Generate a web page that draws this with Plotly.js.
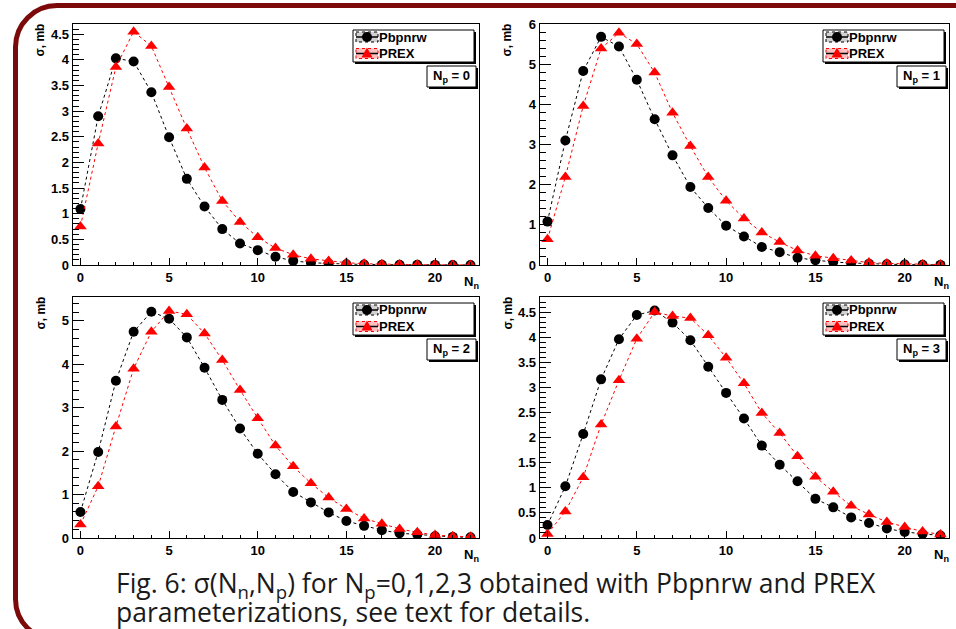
<!DOCTYPE html>
<html>
<head>
<meta charset="utf-8">
<script src="https://cdn.plot.ly/plotly-3.0.1.min.js"></script>
<style>
html,body{margin:0;padding:0;background:#fff;}
#frame{position:absolute;left:13px;top:3px;width:1000px;height:640px;border:5px solid #7d0a0a;border-radius:44px;box-sizing:border-box;}
#chart{position:absolute;left:0;top:0;width:956px;height:629px;}
</style>
</head>
<body>
<div id="frame"></div>
<div id="chart"></div>
<script>
// ---- data ----
const nn = [0,1,2,3,4,5,6,7,8,9,10,11,12,13,14,15,16,17,18,19,20,21,22];
const npLabels = ["0","1","2","3"];
const seriesNames = ["Pbpnrw","PREX"];

const pb0   = [1.09,2.90,4.03,3.97,3.37,2.49,1.68,1.14,0.70,0.42,0.29,0.16,0.08,0.045,0.03,0.015,0.01,0.006,0.004,0.003,0.002,0.001,0.001];
const prex0 = [0.75,2.37,3.86,4.55,4.27,3.47,2.66,1.90,1.25,0.84,0.54,0.33,0.20,0.12,0.08,0.045,0.025,0.015,0.01,0.006,0.004,0.002,0.001];
const pb1   = [1.08,3.10,4.83,5.68,5.44,4.61,3.63,2.73,1.94,1.42,0.98,0.71,0.45,0.32,0.18,0.12,0.075,0.05,0.03,0.02,0.01,0.006,0.003];
const prex1 = [0.64,2.19,3.96,5.39,5.78,5.50,4.79,3.79,2.96,2.19,1.60,1.16,0.81,0.57,0.36,0.23,0.17,0.11,0.06,0.04,0.025,0.015,0.01];
const pb2   = [0.60,1.98,3.62,4.75,5.21,5.05,4.62,3.92,3.18,2.52,1.94,1.47,1.06,0.82,0.59,0.39,0.28,0.18,0.11,0.08,0.04,0.025,0.015];
const prex2 = [0.31,1.19,2.57,3.90,4.75,5.23,5.15,4.71,4.10,3.41,2.76,2.13,1.65,1.26,0.93,0.67,0.45,0.33,0.21,0.13,0.07,0.04,0.03];
const pb3   = [0.26,1.03,2.07,3.16,3.96,4.44,4.53,4.29,3.94,3.41,2.89,2.38,1.84,1.46,1.13,0.78,0.61,0.41,0.30,0.19,0.12,0.08,0.05];
const prex3 = [0.08,0.53,1.21,2.26,3.14,3.97,4.50,4.42,4.38,4.04,3.59,3.08,2.49,2.09,1.63,1.22,0.92,0.64,0.47,0.32,0.22,0.13,0.07];

const yMax   = [4.7, 6.0, 5.55, 4.8];
const yDtick = [0.5, 1, 1, 0.5];
const yMinor = [0.1, 0.2, 0.2, 0.1];

const captionLine1 = "Fig. 6: σ(N<sub>n</sub>,N<sub>p</sub>) for N<sub>p</sub>=0,1,2,3 obtained with Pbpnrw and PREX";
const captionLine2 = "parameterizations, see text for details.";

// ---- geometry (pixels) ----
const W = 956, H = 629;
const px = v => v / W;
const py = v => 1 - v / H;
const panels = [
  {l:73, r:479, t:24, b:265},
  {l:540, r:949, t:24, b:265},
  {l:73, r:479, t:297, b:538},
  {l:540, r:949, t:297, b:538}
];
const pbData = [pb0, pb1, pb2, pb3];
const prexData = [prex0, prex1, prex2, prex3];
const colors = ["#000000", "#ff0000"];

const FONT = "Liberation Sans, Arial, sans-serif";
const data = [];
const layout = {
  width: W, height: H,
  margin: {l:0, r:0, t:0, b:0},
  paper_bgcolor: "rgba(0,0,0,0)",
  plot_bgcolor: "#fff",
  showlegend: false,
  font: {family: FONT, size: 13, color: "#000"},
  shapes: [], annotations: []
};

function rectShape(x0, x1, y0, y1, fill, line) {
  return {type: "rect", xref: "paper", yref: "paper",
    x0: px(x0), x1: px(x1), y0: py(y0), y1: py(y1),
    fillcolor: fill, line: line, layer: "above"};
}

panels.forEach((p, i) => {
  const k = i === 0 ? "" : String(i + 1);
  const xa = "x" + k, ya = "y" + k;
  data.push({
    x: nn, y: pbData[i], xaxis: xa, yaxis: ya, name: seriesNames[0],
    type: "scatter", mode: "lines+markers",
    line: {color: colors[0], width: 1, dash: "dot"},
    marker: {symbol: "circle", size: 10, color: colors[0]}
  });
  data.push({
    x: nn, y: prexData[i], xaxis: xa, yaxis: ya, name: seriesNames[1],
    type: "scatter", mode: "lines+markers",
    line: {color: colors[1], width: 1, dash: "dot"},
    marker: {symbol: "triangle-up", size: 11, color: colors[1]}
  });
  layout["xaxis" + k] = {
    domain: [px(p.l), px(p.r)], anchor: ya,
    range: [-0.42, 22.48], tick0: 0, dtick: 5,
    ticks: "inside", ticklen: 7, tickwidth: 1, tickcolor: "#000",
    minor: {ticks: "inside", dtick: 1, ticklen: 3.5, tickwidth: 1, tickcolor: "#000"},
    showline: true, mirror: true, linecolor: "#000", linewidth: 1.3,
    showgrid: false, zeroline: false,
    tickfont: {family: FONT, size: 13, weight: 700}
  };
  layout["yaxis" + k] = {
    domain: [py(p.b), py(p.t)], anchor: xa,
    range: [0, yMax[i]], tick0: 0, dtick: yDtick[i],
    ticks: "inside", ticklen: 11, tickwidth: 1, tickcolor: "#000",
    minor: {ticks: "inside", dtick: yMinor[i], ticklen: 6, tickwidth: 1, tickcolor: "#000"},
    showline: true, mirror: true, linecolor: "#000", linewidth: 1.3,
    showgrid: false, zeroline: false,
    tickfont: {family: FONT, size: 13, weight: 700}
  };

  // legend box + shadow
  const lx0 = p.r - 126, lx1 = p.r - 5, ly0 = p.t + 6, ly1 = p.t + 38;
  layout.shapes.push(rectShape(lx0 + 2, lx1 + 2, ly0 + 2, ly1 + 2, "#000", {width: 0}));
  layout.shapes.push(rectShape(lx0, lx1, ly0, ly1, "#fff", {width: 1, color: "#000"}));
  const rowY = [ly0 + 7, ly0 + 23.5];
  seriesNames.forEach((nm, j) => {
    const cy = rowY[j], cx = lx0 + 14;
    layout.shapes.push(rectShape(cx - 11, cx + 11, cy - 5, cy + 5,
      j === 0 ? "rgba(0,0,0,0.18)" : "rgba(255,0,0,0.25)",
      {width: 1, color: colors[j], dash: "dot"}));
    layout.shapes.push({type: "line", xref: "paper", yref: "paper",
      x0: px(cx - 11), x1: px(cx + 11), y0: py(cy), y1: py(cy),
      line: {color: "#000", width: 1.5}, layer: "above"});
    if (j === 0) {
      layout.shapes.push({type: "circle", xref: "paper", yref: "paper",
        x0: px(cx - 5), x1: px(cx + 5), y0: py(cy - 5), y1: py(cy + 5),
        fillcolor: colors[0], line: {width: 0}, layer: "above"});
    } else {
      layout.shapes.push({type: "path", xref: "paper", yref: "paper",
        path: "M" + px(cx - 5.5) + "," + py(cy + 4) + " L" + px(cx + 5.5) + "," + py(cy + 4) +
              " L" + px(cx) + "," + py(cy - 6) + " Z",
        fillcolor: colors[1], line: {width: 0}, layer: "above"});
    }
    layout.annotations.push({xref: "paper", yref: "paper",
      x: px(lx0 + 24), y: py(cy), xanchor: "left", yanchor: "middle",
      text: nm, showarrow: false,
      font: {family: FONT, size: 13, weight: 700, color: "#000"}});
  });

  // Np box + shadow
  const nx0 = p.r - 52, nx1 = p.r - 3, ny0 = p.t + 42, ny1 = p.t + 63;
  layout.shapes.push(rectShape(nx0 + 2, nx1 + 2, ny0 + 2, ny1 + 2, "#000", {width: 0}));
  layout.shapes.push(rectShape(nx0, nx1, ny0, ny1, "#fff", {width: 1, color: "#000"}));
  layout.annotations.push({xref: "paper", yref: "paper",
    x: px((nx0 + nx1) / 2), y: py((ny0 + ny1) / 2), xanchor: "center", yanchor: "middle",
    text: "N<sub>p</sub> = " + npLabels[i], showarrow: false,
    font: {family: FONT, size: 13, weight: 700, color: "#000"}});

  // axis titles
  layout.annotations.push({xref: "paper", yref: "paper",
    x: px(p.l - 33), y: py(p.t - 2), xanchor: "center", yanchor: "top",
    text: "σ, mb", textangle: -90, showarrow: false,
    font: {family: FONT, size: 12, weight: 700, color: "#000"}});
  layout.annotations.push({xref: "paper", yref: "paper",
    x: px(p.r - 8), y: py(p.b + 17), xanchor: "center", yanchor: "middle",
    text: "N<sub>n</sub>", showarrow: false,
    font: {family: FONT, size: 13, weight: 700, color: "#000"}});
});

const capFont = {family: "Open Sans, sans-serif", size: 26.5, color: "#1a1a1a"};
layout.annotations.push({xref: "paper", yref: "paper",
  x: px(114), y: py(584), xanchor: "left", yanchor: "middle", align: "left",
  text: captionLine1, showarrow: false, font: capFont});
layout.annotations.push({xref: "paper", yref: "paper",
  x: px(114), y: py(612), xanchor: "left", yanchor: "middle", align: "left",
  text: captionLine2, showarrow: false, font: capFont});

Plotly.newPlot("chart", data, layout, {displayModeBar: false, staticPlot: true});
</script>
</body>
</html>
